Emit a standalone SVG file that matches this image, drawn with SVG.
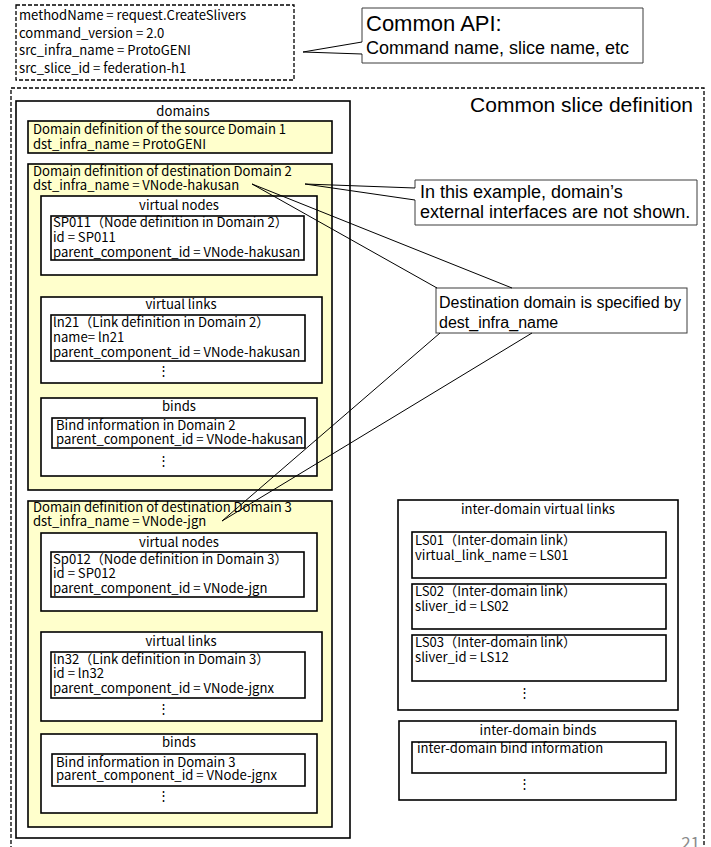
<svg xmlns="http://www.w3.org/2000/svg" width="711" height="847" viewBox="0 0 711 847">
  <style>
    .dash { fill: #fff; stroke: #000; stroke-width: 1.3; stroke-dasharray: 4 2; }
    .outer { fill: none; stroke: #000; stroke-width: 1.3; stroke-dasharray: 4 2; }
    .box { fill: #fff; stroke: #000; stroke-width: 1.6; }
    .dom { fill: #ffffcc; stroke: #000; stroke-width: 1.6; }
    .call { fill: #fff; stroke: #3c3c3c; stroke-width: 1; }
    .conn { fill: none; stroke: #000; stroke-width: 1; }
    .t { font-family: "Noto Sans CJK JP", "Noto Sans", sans-serif; font-size: 13.1px; fill: #000; }
    .mid { text-anchor: middle; }
    .a { font-family: "Liberation Sans", Arial, sans-serif; font-size: 18px; fill: #000; }
    .big { font-size: 21px; }
    .pg { font-family: "Noto Sans CJK JP", sans-serif; font-size: 17px; fill: #8c8c8c; text-anchor: end; }
  </style>

  <rect width="711" height="847" fill="#fff"/>

  <!-- request header -->
  <g id="request-header">
    <rect class="dash" x="16" y="5" width="278" height="75"/>
    <text class="t" x="19" y="20">methodName = request.CreateSlivers</text>
    <text class="t" x="19" y="37.7">command_version = 2.0</text>
    <text class="t" x="19" y="55.4">src_infra_name = ProtoGENI</text>
    <text class="t" x="19" y="73">src_slice_id = federation-h1</text>
  </g>

  <!-- callout: common API -->
  <g id="note-common-api">
    <path class="call" d="M362,42 V8 H643 V63 H362 V54"/>
    <text class="a" x="366" y="31" style="font-size:22px">Common API:</text>
    <text class="a" x="366" y="54">Command name, slice name, etc</text>
  </g>

  <!-- slice definition frame -->
  <g id="common-slice">
    <rect class="outer" x="11" y="88" width="693" height="780"/>
    <text class="a big" x="693" y="112" text-anchor="end">Common slice definition</text>
  </g>

  <!-- domains container -->
  <g id="domains">
    <rect class="box" x="16" y="101" width="334" height="737"/>
    <text class="t mid" x="183" y="116">domains</text>
  </g>

  <g id="domain1">
    <rect class="dom" x="28" y="121" width="304" height="32"/>
    <text class="t" x="33" y="133.5">Domain definition of the source Domain 1</text>
    <text class="t" x="33" y="148.5">dst_infra_name = ProtoGENI</text>
  </g>

  <g id="domain2">
    <rect class="dom" x="28" y="164" width="304" height="326"/>
    <text class="t" x="33" y="175.5">Domain definition of destination Domain 2</text>
    <text class="t" x="33" y="189.5">dst_infra_name = VNode-hakusan</text>
  </g>

  <g id="d2-virtual-nodes">
    <rect class="box" x="41" y="196" width="276" height="79"/>
    <text class="t mid" x="179" y="210">virtual nodes</text>
    <rect class="box" x="51" y="216" width="253" height="44"/>
    <text class="t" x="53" y="227">SP011（Node definition in Domain 2）</text>
    <text class="t" x="53" y="242">id = SP011</text>
    <text class="t" x="53" y="257">parent_component_id = VNode-hakusan</text>
  </g>

  <g id="d2-virtual-links">
    <rect class="box" x="41" y="297" width="281" height="86"/>
    <text class="t mid" x="181" y="309">virtual links</text>
    <rect class="box" x="51" y="315" width="254" height="46"/>
    <text class="t" x="53" y="327">ln21（Link definition in Domain 2）</text>
    <text class="t" x="53" y="342">name= ln21</text>
    <text class="t" x="53" y="357">parent_component_id = VNode-hakusan</text>
    <text class="t mid" x="163" y="375">⋮</text>
  </g>

  <g id="d2-binds">
    <rect class="box" x="41" y="398" width="276" height="78"/>
    <text class="t mid" x="179" y="411">binds</text>
    <rect class="box" x="52" y="418" width="253" height="30"/>
    <text class="t" x="56" y="430">Bind information in Domain 2</text>
    <text class="t" x="56" y="444">parent_component_id = VNode-hakusan</text>
    <text class="t mid" x="163" y="465">⋮</text>
  </g>

  <g id="domain3">
    <rect class="dom" x="28" y="501" width="304" height="326"/>
    <text class="t" x="33" y="512">Domain definition of destination Domain 3</text>
    <text class="t" x="33" y="526">dst_infra_name = VNode-jgn</text>
  </g>

  <g id="d3-virtual-nodes">
    <rect class="box" x="41" y="533" width="276" height="78"/>
    <text class="t mid" x="179" y="547">virtual nodes</text>
    <rect class="box" x="51" y="552" width="253" height="45"/>
    <text class="t" x="53" y="564">Sp012（Node definition in Domain 3）</text>
    <text class="t" x="53" y="578">id = SP012</text>
    <text class="t" x="53" y="593">parent_component_id = VNode-jgn</text>
  </g>

  <g id="d3-virtual-links">
    <rect class="box" x="41" y="632" width="281" height="89"/>
    <text class="t mid" x="181" y="646">virtual links</text>
    <rect class="box" x="51" y="652" width="254" height="46"/>
    <text class="t" x="53" y="664">ln32（Link definition in Domain 3）</text>
    <text class="t" x="53" y="678">id = ln32</text>
    <text class="t" x="53" y="693">parent_component_id = VNode-jgnx</text>
    <text class="t mid" x="163" y="713">⋮</text>
  </g>

  <g id="d3-binds">
    <rect class="box" x="41" y="734" width="276" height="79"/>
    <text class="t mid" x="179" y="747">binds</text>
    <rect class="box" x="52" y="754" width="253" height="32"/>
    <text class="t" x="56" y="767">Bind information in Domain 3</text>
    <text class="t" x="56" y="780">parent_component_id = VNode-jgnx</text>
    <text class="t mid" x="163" y="800">⋮</text>
  </g>

  <!-- inter-domain parts -->
  <g id="inter-domain-links">
    <rect class="box" x="398" y="500" width="280" height="210"/>
    <text class="t mid" x="538" y="514">inter-domain virtual links</text>
    <rect class="box" x="412" y="532" width="254" height="46"/>
    <text class="t" x="415" y="545">LS01（Inter-domain link）</text>
    <text class="t" x="415" y="560">virtual_link_name = LS01</text>
    <rect class="box" x="412" y="584" width="254" height="45"/>
    <text class="t" x="415" y="596">LS02（Inter-domain link）</text>
    <text class="t" x="415" y="611">sliver_id = LS02</text>
    <rect class="box" x="412" y="635" width="254" height="46"/>
    <text class="t" x="415" y="647">LS03（Inter-domain link）</text>
    <text class="t" x="415" y="662">sliver_id = LS12</text>
    <text class="t mid" x="524" y="697">⋮</text>
  </g>

  <g id="inter-domain-binds">
    <rect class="box" x="399" y="721" width="277" height="79"/>
    <text class="t mid" x="538" y="735">inter-domain binds</text>
    <rect class="box" x="412" y="742" width="254" height="31"/>
    <text class="t" x="417" y="753">inter-domain bind information</text>
    <text class="t mid" x="524" y="788">⋮</text>
  </g>

  <!-- callout: external interfaces -->
  <g id="note-interfaces">
    <path class="call" d="M415,188 V180 H697 V225 H415 V200"/>
    <text class="a" x="420" y="198">In this example, domain’s</text>
    <text class="a" x="420" y="218">external interfaces are not shown.</text>
  </g>

  <!-- callout: destination domain -->
  <g id="note-destination">
    <rect class="call" x="436" y="288" width="251" height="45"/>
    <text class="a" x="439" y="308" style="font-size:16px">Destination domain is specified by</text>
    <text class="a" x="439" y="328" style="font-size:16px">dest_infra_name</text>
  </g>

  <!-- callout pointers -->
  <g id="connectors">
    <path class="conn" d="M362,42 L303,52 L362,54"/>
    <path class="conn" d="M415,188 L305,184 L415,200"/>
    <path class="conn" d="M437,288 L252,184 L512,288"/>
    <path class="conn" d="M440,333 L222,521 L532,333"/>
  </g>

  <text class="pg" x="700" y="849">21</text>
</svg>
